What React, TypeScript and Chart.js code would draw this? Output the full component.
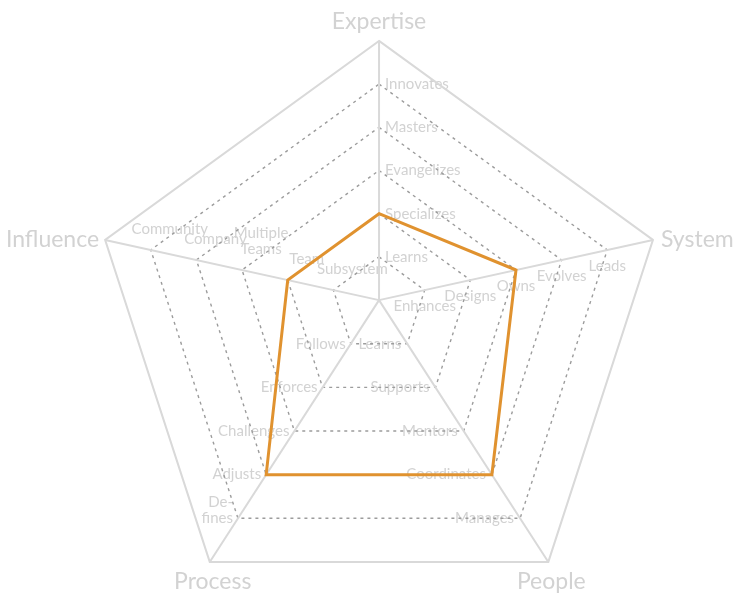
import React, { useEffect, useRef } from 'react';
import { Chart, registerables } from 'chart.js';

Chart.register(...registerables);

// ---- data ----
const categories = ['Expertise', 'System', 'People', 'Process', 'Influence'];
const levels = [1, 2, 3, 4, 5];
const maxLevel = 6;
const expertiseLabels = ['Learns', 'Specializes', 'Evangelizes', 'Masters', 'Innovates'];
const systemLabels = ['Enhances', 'Designs', 'Owns', 'Evolves', 'Leads'];
const peopleLabels = ['Learns', 'Supports', 'Mentors', 'Coordinates', 'Manages'];
const processLabels = ['Follows', 'Enforces', 'Challenges', 'Adjusts', 'De-\nfines'];
const influenceLabels = ['Subsystem', 'Team', 'Multiple\nTeams', 'Company', 'Community'];
const levelLabels = [expertiseLabels, systemLabels, peopleLabels, processLabels, influenceLabels];
const values = [2, 3, 4, 4, 2];

// ---- geometry / style ----
const ORIGIN_SHIFT = 0.1; // origin sits above the centre of the outer pentagon
const TEXT = '#d2d2d2';
const FONT = 'Lato, "Noto Sans", sans-serif';

function axisDir(i: number) {
  const a = (2 * Math.PI * i) / categories.length;
  return { x: Math.sin(a), y: Math.cos(a) - ORIGIN_SHIFT };
}
function pointAt(i: number, v: number) {
  const d = axisDir(i);
  const f = v / maxLevel;
  return { x: d.x * f, y: d.y * f };
}
function ring(v: number, solid: boolean) {
  const pts = categories.map((_, i) => pointAt(i, v));
  pts.push(pts[0]);
  if (solid) pts.push(pts[1]);
  return pts;
}

const placement = [
  { align: 'left', dx: 6, dy: 0 },
  { align: 'center', dx: 0, dy: 16 },
  { align: 'right', dx: -6, dy: 0 },
  { align: 'right', dx: -5, dy: 0 },
  { align: 'center', dx: 19, dy: -21 },
];

const labelPlugin = {
  id: 'radarLabels',
  beforeDatasetsDraw(chart: any) {
    const { ctx } = chart;
    const xs = chart.scales.x;
    const ys = chart.scales.y;
    const px = (p: { x: number; y: number }) => ({ x: xs.getPixelForValue(p.x), y: ys.getPixelForValue(p.y) });
    ctx.save();
    ctx.fillStyle = TEXT;
    ctx.font = `15px ${FONT}`;
    ctx.textBaseline = 'middle';
    levelLabels.forEach((labs, i) => {
      const pl = placement[i];
      labs.forEach((lab, k) => {
        const p = px(pointAt(i, levels[k]));
        const lines = lab.split('\n');
        ctx.textAlign = pl.align;
        lines.forEach((ln, j) => {
          ctx.fillText(ln, p.x + pl.dx, p.y + pl.dy - (lines.length - 1 - j) * 16);
        });
      });
    });
    ctx.font = `23px ${FONT}`;
    categories.forEach((c, i) => {
      const a = (2 * Math.PI * i) / categories.length;
      const p = px(pointAt(i, maxLevel));
      const sx = Math.sin(a);
      const cy = Math.cos(a);
      if (sx > 0.75) {
        ctx.textAlign = 'left';
        ctx.textBaseline = 'middle';
        ctx.fillText(c, p.x + 8, p.y);
      } else if (sx < -0.75) {
        ctx.textAlign = 'right';
        ctx.textBaseline = 'middle';
        ctx.fillText(c, p.x - 6, p.y);
      } else if (cy > 0) {
        ctx.textAlign = 'center';
        ctx.textBaseline = 'bottom';
        ctx.fillText(c, p.x, p.y - 8);
      } else {
        ctx.textAlign = 'center';
        ctx.textBaseline = 'top';
        ctx.fillText(c, p.x + 3, p.y + 8);
      }
    });
    ctx.restore();
  },
};

export default function App() {
  const ref = useRef<HTMLCanvasElement>(null);
  useEffect(() => {
    if (!ref.current) return;
    const base = { showLine: true, pointRadius: 0, fill: false, borderJoinStyle: 'miter' };
    const datasets: any[] = [];
    datasets.push({
      ...base,
      data: [...values.map((v, i) => pointAt(i, v)), pointAt(0, values[0]), pointAt(1, values[1])],
      borderColor: '#e0922f',
      borderWidth: 3,
    });
    categories.forEach((_, i) => {
      datasets.push({ ...base, data: [pointAt(i, 0), pointAt(i, maxLevel)], borderColor: '#d9d9d9', borderWidth: 2 });
    });
    datasets.push({ ...base, data: ring(maxLevel, true), borderColor: '#d9d9d9', borderWidth: 2 });
    levels.forEach((l) => {
      datasets.push({ ...base, data: ring(l, false), borderColor: '#9c9c9c', borderWidth: 1.4, borderDash: [3, 4] });
    });
    const chart = new Chart(ref.current, {
      type: 'scatter',
      data: { datasets },
      options: {
        animation: false,
        responsive: false,
        devicePixelRatio: 1,
        events: [],
        layout: { padding: 0 },
        plugins: { legend: { display: false }, tooltip: { enabled: false } },
        scales: {
          x: { type: 'linear', min: -1.316, max: 1.288, display: false },
          y: { type: 'linear', min: -1.069, max: 1.042, display: false },
        },
      },
      plugins: [labelPlugin],
    } as any);
    return () => chart.destroy();
  }, []);
  return (
    <div style={{ position: 'absolute', left: 0, top: 0, width: 750, height: 608 }}>
      <canvas ref={ref} width={750} height={608} style={{ display: 'block' }} />
    </div>
  );
}
